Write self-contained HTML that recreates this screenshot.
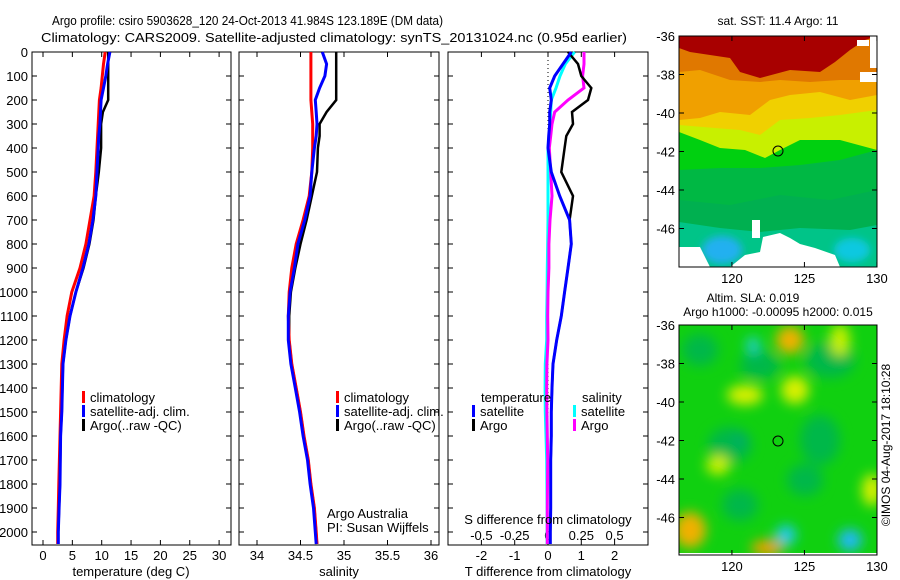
<!DOCTYPE html>
<html><head><meta charset="utf-8"><style>
html,body{margin:0;padding:0;background:#fff;}
svg{display:block;font-family:"Liberation Sans",sans-serif;font-size:13px;}
</style></head><body>
<svg id="fig" width="900" height="580" viewBox="0 0 900 580" xmlns="http://www.w3.org/2000/svg">
<defs>
<filter id="blur4" x="-50%" y="-50%" width="200%" height="200%"><feGaussianBlur stdDeviation="4"/></filter>
<filter id="blur6" x="-50%" y="-50%" width="200%" height="200%"><feGaussianBlur stdDeviation="6"/></filter>
<clipPath id="m1clip"><rect x="679" y="36" width="198" height="231"/></clipPath>
<clipPath id="m2clip"><rect x="679" y="325" width="198" height="230"/></clipPath>
</defs>
<text x="52" y="25" textLength="391" lengthAdjust="spacingAndGlyphs">Argo profile: csiro 5903628_120 24-Oct-2013 41.984S 123.189E (DM data)</text>
<text x="41" y="42" textLength="586" lengthAdjust="spacingAndGlyphs">Climatology: CARS2009. Satellite-adjusted climatology: synTS_20131024.nc (0.95d earlier)</text>
<text x="778" y="25" text-anchor="middle" font-size="12">sat. SST: 11.4 Argo: 11</text>
<text x="753" y="302" text-anchor="middle" font-size="12">Altim. SLA: 0.019</text>
<text x="778" y="316" text-anchor="middle" font-size="12">Argo h1000: -0.00095 h2000: 0.015</text>
<text transform="translate(890,445) rotate(-90)" text-anchor="middle" font-size="12">©IMOS 04-Aug-2017 18:10:28</text>

<!-- SST map -->
<g clip-path="url(#m1clip)">
<rect x="679" y="36" width="198" height="231" fill="#00c488"/>
<polygon fill="#00b050" points="679,130 877,130 877,225 850,230 800,228 760,232 720,228 679,222"/>
<polygon fill="#00b844" points="679,130 877,130 877,190 830,200 780,195 730,205 679,200"/>
<polygon fill="#00d010" points="679,130 877,130 877,150 840,160 800,165 760,168 720,168 679,170"/>
<polygon fill="#c8f000" points="679,36 877,36 877,150 840,140 800,140 780,150 765,158 745,150 720,148 700,140 679,132"/>
<polygon fill="#f0d000" points="679,36 877,36 877,110 840,115 810,118 780,120 760,135 740,130 715,128 679,125"/>
<polygon fill="#f0a000" points="679,36 877,36 877,95 850,100 820,92 790,95 770,100 750,115 720,112 700,118 679,120"/>
<polygon fill="#e07800" points="679,36 877,36 877,80 840,80 810,82 780,80 760,82 730,80 700,70 679,72"/>
<polygon fill="#a80000" points="679,36 877,36 865,40 850,50 835,62 820,72 790,70 760,78 740,72 730,58 710,55 690,52 679,48"/>
<ellipse cx="722" cy="250" rx="20" ry="14" fill="#20b0f0" filter="url(#blur4)"/>
<ellipse cx="852" cy="250" rx="18" ry="12" fill="#10c8e0" filter="url(#blur4)"/>
<polygon fill="#fff" points="679,247 700,247 710,267 679,267"/>
<polygon fill="#fff" points="763,237 780,233 790,238 800,244 815,248 835,255 840,267 730,267 745,255 760,252"/>
<rect x="752" y="220" width="8" height="18" fill="#fff"/>
<rect x="860" y="72" width="17" height="10" fill="#fff"/>
<rect x="857" y="40" width="12" height="6" fill="#fff"/>
<rect x="870" y="36" width="7" height="32" fill="#fff"/>
</g>
<circle cx="778" cy="151" r="5" fill="none" stroke="#000"/>
<rect x="679" y="36" width="198" height="231" fill="none" stroke="#000"/>

<!-- SLA map -->
<g clip-path="url(#m2clip)">
<rect x="679" y="325" width="198" height="230" fill="#10d010"/>
<g filter="url(#blur6)">
<ellipse cx="700" cy="350" rx="18" ry="16" fill="#00b848"/>
<ellipse cx="760" cy="365" rx="20" ry="14" fill="#00b848"/>
<ellipse cx="830" cy="360" rx="25" ry="18" fill="#00b848"/>
<ellipse cx="730" cy="445" rx="22" ry="18" fill="#00b848"/>
<ellipse cx="820" cy="440" rx="20" ry="25" fill="#00b848"/>
<ellipse cx="740" cy="505" rx="18" ry="16" fill="#00b848"/>
<ellipse cx="805" cy="480" rx="18" ry="16" fill="#00b848"/>
<ellipse cx="790" cy="340" rx="14" ry="14" fill="#f0b000"/>
<ellipse cx="840" cy="340" rx="10" ry="16" fill="#c8f000"/>
<ellipse cx="745" cy="395" rx="18" ry="10" fill="#d8f000"/>
<ellipse cx="795" cy="390" rx="14" ry="14" fill="#d8f000"/>
<ellipse cx="718" cy="465" rx="12" ry="10" fill="#c8f000"/>
<ellipse cx="872" cy="490" rx="10" ry="16" fill="#d8f000"/>
<ellipse cx="690" cy="530" rx="16" ry="18" fill="#f0b000"/>
<ellipse cx="767" cy="548" rx="16" ry="8" fill="#f0a000"/>
<ellipse cx="753" cy="345" rx="7" ry="8" fill="#20d0d0"/>
<ellipse cx="786" cy="535" rx="10" ry="10" fill="#20c8f0"/>
<ellipse cx="850" cy="540" rx="12" ry="11" fill="#20b8f8"/>
<ellipse cx="740" cy="440" rx="6" ry="6" fill="#00a870"/>
</g>
<rect x="679" y="553" width="198" height="2" fill="#fff"/>
</g>
<circle cx="778" cy="441" r="5" fill="none" stroke="#000"/>
<rect x="679" y="325" width="198" height="230" fill="none" stroke="#000"/>
<g id="axes"></g>
</svg>
<script>
// ---- data ----
const depths = [0,50,100,150,200,250,300,350,400,500,600,700,800,900,1000,1100,1200,1300,1400,1500,1600,1700,1800,1900,2000,2050];
const tempClim = [10.6,10.3,10.1,9.9,9.6,9.5,9.4,9.3,9.2,9.0,8.7,8.0,7.3,6.3,4.9,4.1,3.6,3.2,3.1,3.0,2.9,2.8,2.7,2.6,2.5,2.5];
const tempSat  = [11.4,11.0,10.7,10.3,9.9,9.8,9.7,9.5,9.4,9.2,9.0,8.5,7.8,6.8,5.6,4.6,3.9,3.4,3.3,3.2,3.0,2.95,2.9,2.75,2.6,2.6];
const tempArgo = [11.1,11.1,11.1,11.1,11.1,10.2,9.9,9.9,9.9,9.5,9.0,8.6,7.9,6.9,5.6,4.6,3.9,3.4,3.3,3.2,3.0,2.95,2.9,2.75,2.6,2.6];
const salClim = [34.62,34.62,34.62,34.62,34.62,34.63,34.64,34.64,34.64,34.63,34.60,34.53,34.45,34.40,34.37,34.36,34.37,34.40,34.45,34.50,34.54,34.59,34.62,34.66,34.68,34.69];
const salSat  = [34.75,34.80,34.78,34.72,34.67,34.68,34.69,34.68,34.66,34.63,34.61,34.55,34.47,34.43,34.38,34.36,34.36,34.39,34.44,34.49,34.53,34.58,34.61,34.65,34.67,34.68];
const salArgo = [34.91,34.91,34.91,34.91,34.91,34.80,34.72,34.72,34.70,34.69,34.63,34.57,34.50,34.44,34.39,34.37,34.37,34.40,34.45,34.50,34.54,34.59,34.62,34.66,34.68,34.69];
const dTsat  = [0.7,0.45,0.2,0.05,0.1,0.05,0.05,0.02,0.0,0.1,0.35,0.65,0.7,0.6,0.5,0.4,0.26,0.15,0.12,0.1,0.1,0.08,0.08,0.08,0.07,0.07];
const dTargo = [0.6,0.9,1.0,1.3,1.2,0.72,0.75,0.55,0.5,0.4,0.75,0.65,0.7,0.6,0.5,0.4,0.26,0.15,0.12,0.1,0.1,0.08,0.08,0.08,0.07,0.07];
const dSsat  = [0.2,0.13,0.09,0.06,0.025,0.02,0.015,0.01,0,0,0,0,-0.002,-0.005,-0.007,-0.01,-0.01,-0.02,-0.022,-0.02,-0.015,-0.01,-0.008,-0.007,-0.007,-0.007];
const dSargo = [0.27,0.27,0.26,0.27,0.15,0.05,0.03,0.02,0.01,0.02,0.03,0.015,0.007,0.007,0,-0.002,0,-0.008,-0.01,-0.008,-0.005,-0.002,-0.004,-0.005,-0.005,-0.005];
const depthTicks = [0,100,200,300,400,500,600,700,800,900,1000,1100,1200,1300,1400,1500,1600,1700,1800,1900,2000];
const tempTicks = [0,5,10,15,20,25,30];
const salTicks = [34,34.5,35,35.5,36];
const salTickLabels = ["34","34.5","35","35.5","36"];
const dTTicks = [-2,-1,0,1,2];
const dSTicks = [-0.5,-0.25,0,0.25,0.5];
const dSTickLabels = ["-0.5","-0.25","0","0.25","0.5"];
const mapLat = [-36,-38,-40,-42,-44,-46];
const mapLon = [120,125,130];

// ---- scales ----
const Y0=52, Y1=545;
const yD = d => Y0 + d*0.24;
const xT = t => 43 + t*5.87;
const xS = s => 257 + (s-34)*87;
const xDT = t => 548 + t*33.3;
const xDS = s => 548 + s*133.2;
const yLat1 = l => 36 + (-36-l)*19.25;
const yLat2 = l => 325 + (-36-l)*19.25;
const xLon = l => 679 + (l-116.35)*14.5;

const NS='http://www.w3.org/2000/svg';
const G=document.getElementById('axes');
function mk(tag, attrs, parent){const e=document.createElementNS(NS,tag);for(const k in attrs)e.setAttribute(k,attrs[k]);(parent||G).appendChild(e);return e;}
function txt(x,y,s,anchor,parent){const e=mk('text',{x:x,y:y,'text-anchor':anchor||'middle'},parent);e.textContent=s;return e;}

const panels=[{x:32,w:199,name:'temperature-panel'},{x:239,w:200,name:'salinity-panel'},{x:448,w:200,name:'difference-panel'}];
panels.forEach(p=>{
  const r=mk('rect',{x:p.x,y:Y0,width:p.w,height:Y1-Y0,fill:'none',stroke:'#000'});
  
  
  depthTicks.forEach(d=>{
    const y=yD(d);
    mk('line',{x1:p.x,x2:p.x+5,y1:y,y2:y,stroke:'#000'});
    mk('line',{x1:p.x+p.w-5,x2:p.x+p.w,y1:y,y2:y,stroke:'#000'});
  });
});
depthTicks.forEach(d=>{
  const t=txt(28,yD(d)+5,String(d),'end');
  
  
});
function xticks(vals,fx,labels,ly,withLabels){
  vals.forEach((v,i)=>{
    const x=fx(v);
    mk('line',{x1:x,x2:x,y1:Y0,y2:Y0+5,stroke:'#000'});
    mk('line',{x1:x,x2:x,y1:Y1-5,y2:Y1,stroke:'#000'});
    if(withLabels){const t=txt(x,ly,labels[i]);
      
      }
  });
}
xticks(tempTicks,xT,tempTicks.map(String),560,true);
xticks(salTicks,xS,salTickLabels,560,true);
xticks(dTTicks,xDT,dTTicks.map(String),560,true);
dSTicks.forEach((v,i)=>{const t=txt(xDS(v),540,dSTickLabels[i]);
  
  });
// zero dotted line
const zl=mk('line',{x1:xDT(0),x2:xDT(0),y1:Y0,y2:Y1,stroke:'#000','stroke-dasharray':'1,3'});



function series(vals,fx,color,w,name){
  const pts=vals.map((v,i)=>fx(v).toFixed(1)+','+yD(depths[i]).toFixed(1)).join(' ');
  const e=mk('polyline',{points:pts,fill:'none',stroke:color,'stroke-width':w,'stroke-linejoin':'miter'});
  
  
}
series(tempArgo,xT,'#000',2.5,'temp-argo-line');
series(tempClim,xT,'#f00',3,'temp-climatology-line');
series(tempSat,xT,'#00f',3,'temp-satellite-line');
series(salArgo,xS,'#000',2.5,'sal-argo-line');
series(salClim,xS,'#f00',3,'sal-climatology-line');
series(salSat,xS,'#00f',3,'sal-satellite-line');
series(dSsat,xDS,'#0ff',3,'s-diff-satellite-line');
series(dSargo,xDS,'#f0f',3,'s-diff-argo-line');
series(dTargo,xDT,'#000',2.5,'t-diff-argo-line');
series(dTsat,xDT,'#00f',3,'t-diff-satellite-line');

// axis titles
[[131,576,'temperature (deg C)','temperature-axis-title'],[339,576,'salinity','salinity-axis-title'],[548,576,'T difference from climatology','t-diff-axis-title'],[548,524,'S difference from climatology','s-diff-axis-title']].forEach(a=>{
  const t=txt(a[0],a[1],a[2]);
  
  
});
// legends
function legendItem(x,y,color,label){
  const g=mk('g',{});
  
  
  mk('rect',{x:x,y:y-11,width:3,height:12,fill:color},g);
  txt(x+8,y,label,'start',g);
}
[[82,'climatology','#f00'],[82,'satellite-adj. clim.','#00f'],[82,'Argo(..raw -QC)','#000']].forEach((l,i)=>legendItem(l[0],402+i*14,l[2],l[1]));
[[336,'climatology','#f00'],[336,'satellite-adj. clim.','#00f'],[336,'Argo(..raw -QC)','#000']].forEach((l,i)=>legendItem(l[0],402+i*14,l[2],l[1]));
let t1=txt(481,402,'temperature','start');
let t2=txt(582,402,'salinity','start');
legendItem(472,416,'#00f','satellite');legendItem(472,430,'#000','Argo');
legendItem(573,416,'#0ff','satellite');legendItem(573,430,'#f0f','Argo');
let a1=txt(327,518,'Argo Australia','start');
let a2=txt(327,532,'PI: Susan Wijffels','start');

// map axes
[[yLat1,36,267],[yLat2,325,555]].forEach((m,mi)=>{
  mapLat.forEach(l=>{
    const y=m[0](l);
    mk('line',{x1:679,x2:684,y1:y,y2:y,stroke:'#000'});
    mk('line',{x1:872,x2:877,y1:y,y2:y,stroke:'#000'});
    const t=txt(675,y+5,String(l),'end');
    
    
  });
  mapLon.forEach(l=>{
    const x=xLon(l);
    mk('line',{x1:x,x2:x,y1:m[1],y2:m[1]+5,stroke:'#000'});
    mk('line',{x1:x,x2:x,y1:m[2]-5,y2:m[2],stroke:'#000'});
    const t=txt(x,m[2]+16,String(l));
    
    
  });
});
</script>
</body></html>
